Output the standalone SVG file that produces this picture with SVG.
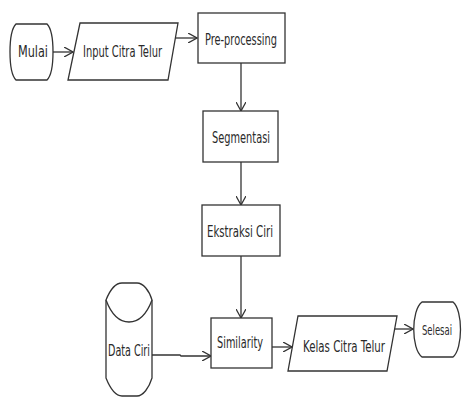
<svg xmlns="http://www.w3.org/2000/svg" width="464" height="397" viewBox="0 0 464 397">
<style>
.s{fill:#fff;stroke:#333;stroke-width:1.3}
.t{font-family:"DejaVu Sans Condensed","DejaVu Sans",sans-serif;font-stretch:condensed;font-size:15px;fill:#2a2a2a;text-anchor:middle}
.c{fill:none;stroke:#333;stroke-width:1.3;marker-end:url(#a)}
</style>
<defs>
<marker id="a" viewBox="0 0 10 10" refX="9" refY="5" markerWidth="10" markerHeight="10" markerUnits="userSpaceOnUse" orient="auto">
<path d="M0,0 L9,5 L0,10" fill="none" stroke="#333" stroke-width="1.3"/>
</marker>
</defs>
<rect width="464" height="397" fill="#fff"/>
<g id="connectors">
<line class="c" x1="53" y1="52" x2="73" y2="52"/>
<line class="c" x1="175" y1="38" x2="197" y2="38"/>
<line class="c" x1="241" y1="63" x2="241" y2="111"/>
<line class="c" x1="241" y1="162" x2="241" y2="205"/>
<line class="c" x1="241" y1="256" x2="241" y2="318"/>
<polyline class="c" points="152,355 180,355 181,356 211,356"/>
<line class="c" x1="272" y1="347" x2="292" y2="347"/>
<line class="c" x1="394" y1="329" x2="413" y2="329"/>
</g>
<g id="mulai">
<path class="s" d="M16,24 H47 C55,32 55,72 47,80 H16 C8,72 8,32 16,24 Z"/>
<text class="t" x="33" y="57" textLength="30" lengthAdjust="spacingAndGlyphs">Mulai</text>
</g>
<g id="input">
<polygon class="s" points="80,23 178,23 168,80 68,80"/>
<text class="t" x="122.5" y="57" textLength="79" lengthAdjust="spacingAndGlyphs">Input Citra Telur</text>
</g>
<g id="preprocessing">
<rect class="s" x="198" y="13" width="87" height="50"/>
<text class="t" x="241" y="45" textLength="72" lengthAdjust="spacingAndGlyphs">Pre-processing</text>
</g>
<g id="segmentasi">
<rect class="s" x="203" y="111" width="75" height="51"/>
<text class="t" x="241" y="143" textLength="58" lengthAdjust="spacingAndGlyphs">Segmentasi</text>
</g>
<g id="ekstraksi">
<rect class="s" x="202" y="205" width="78" height="51"/>
<text class="t" x="240" y="237" textLength="66" lengthAdjust="spacingAndGlyphs">Ekstraksi Ciri</text>
</g>
<g id="dataciri">
<path class="s" d="M106,300 C110,290 116,283 122,283 H137 C143,283 149,290 152,300 V378 C149,388 143,396 137,396 H122 C116,396 110,388 106,378 Z"/>
<path class="s" fill="none" d="M106,300 C112,316 120,322 129,322 C138,322 146,316 152,300"/>
<text class="t" x="129" y="356" textLength="42" lengthAdjust="spacingAndGlyphs">Data Ciri</text>
</g>
<g id="similarity">
<rect class="s" x="211" y="318" width="61" height="50"/>
<text class="t" x="240" y="348" textLength="46" lengthAdjust="spacingAndGlyphs">Similarity</text>
</g>
<g id="kelas">
<polygon class="s" points="298,316 397,316 387,371 288,371"/>
<text class="t" x="344" y="352" textLength="82" lengthAdjust="spacingAndGlyphs">Kelas Citra Telur</text>
</g>
<g id="selesai">
<path class="s" d="M422,302 H453 C463,310 463,349 453,357 H422 C411,349 411,310 422,302 Z"/>
<text class="t" x="437" y="334.5" style="font-size:13.5px" textLength="30" lengthAdjust="spacingAndGlyphs">Selesai</text>
</g>
</svg>
